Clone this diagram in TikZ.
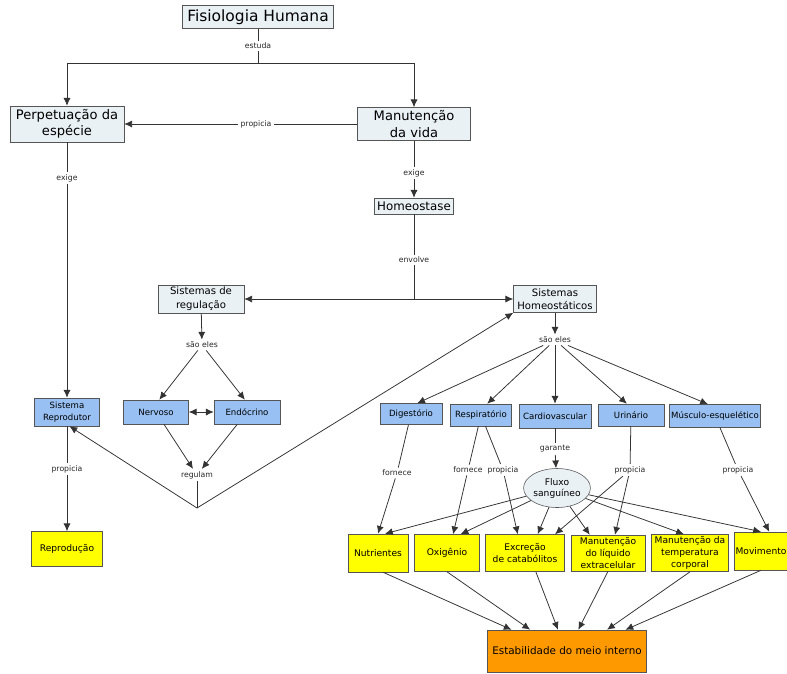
\documentclass[tikz,border=0pt]{standalone}
\usepackage{fontspec}
\setmainfont{DejaVu Sans}
\usetikzlibrary{positioning}
\usetikzlibrary{shapes}
\usetikzlibrary{arrows.meta}

\definecolor{boxgray}{RGB}{233,241,245}
\definecolor{boxblue}{RGB}{152,192,242}
\definecolor{boxyellow}{RGB}{255,255,0}
\definecolor{boxorange}{RGB}{255,153,0}
\definecolor{edgegray}{RGB}{85,85,85}

\tikzset{
  concept/.style={draw=edgegray, fill=boxgray, align=center, inner sep=1pt},
  sysbox/.style={draw=edgegray, fill=boxblue, align=center, inner sep=1pt, font=\fontsize{6.1}{8.5}\selectfont},
  resbox/.style={draw=edgegray, fill=boxyellow, align=center, inner sep=1pt, font=\fontsize{6.5}{8.3}\selectfont},
  link/.style={inner sep=1.5pt, text=black!85, font=\fontsize{5.5}{6.5}\selectfont},
  conn/.style={draw=black!80, line width=0.55pt},
  >={Latex[length=5.5pt,width=5pt]}
}

\begin{document}
\begin{tikzpicture}[x=0.025cm, y=-0.025cm]
\useasboundingbox (0,0) rectangle (787,673);

%top concepts
\node[concept, font=\fontsize{11}{13}\selectfont, minimum width=3.775cm, minimum height=0.575cm] (fisio) at (258,17) {Fisiologia Humana};
\node[concept, font=\fontsize{9.3}{11.5}\selectfont, minimum width=2.85cm, minimum height=0.9cm] (perp) at (67,124) {Perpetuação da\\espécie};
\node[concept, font=\fontsize{9.3}{11.5}\selectfont, minimum width=2.825cm, minimum height=0.825cm] (manu) at (414,124) {Manutenção\\da vida};
\node[concept, font=\fontsize{8.4}{10}\selectfont, minimum width=1.975cm, minimum height=0.4cm, inner sep=0.5pt] (homeo) at (414,206) {Homeostase};
\node[concept, font=\fontsize{7.2}{10}\selectfont, minimum width=2.15cm, minimum height=0.7cm] (sreg) at (201,299) {Sistemas de\\regulação};
\node[concept, font=\fontsize{7.2}{9.4}\selectfont, minimum width=2.075cm, minimum height=0.675cm] (shom) at (555,299) {Sistemas\\Homeostáticos};

%systems
\node[sysbox, minimum width=1.625cm, minimum height=0.7cm] (srep) at (67,412) {Sistema\\Reprodutor};
\node[sysbox, minimum width=1.625cm, minimum height=0.6cm] (nerv) at (156,412) {Nervoso};
\node[sysbox, minimum width=1.65cm, minimum height=0.6cm] (endo) at (247,412) {Endócrino};
\node[sysbox, minimum width=1.55cm, minimum height=0.525cm] (dig) at (411,414) {Digestório};
\node[sysbox, minimum width=1.525cm, minimum height=0.55cm] (resp) at (481,415) {Respiratório};
\node[sysbox, minimum width=1.8cm, minimum height=0.6cm] (cardio) at (555,416) {Cardiovascular};
\node[sysbox, minimum width=1.65cm, minimum height=0.55cm] (urin) at (631,415) {Urinário};
\node[sysbox, minimum width=2.275cm, minimum height=0.575cm] (musc) at (715,416) {Músculo-esquelético};
\node[draw=edgegray, fill=boxgray, ellipse, align=center, inner sep=0pt, minimum width=1.65cm, minimum height=0.975cm, font=\fontsize{6.5}{7.8}\selectfont] (fluxo) at (557,488) {Fluxo\\sanguíneo};

%results
\node[resbox, minimum width=1.775cm, minimum height=0.875cm] (repro) at (67,549) {Reprodução};
\node[resbox, minimum width=1.5cm, minimum height=0.95cm] (nut) at (378,553) {Nutrientes};
\node[resbox, minimum width=1.625cm, minimum height=0.925cm] (oxi) at (447,553) {Oxigênio};
\node[resbox, minimum width=1.975cm, minimum height=0.925cm] (exc) at (525,553) {Excreção\\de catabólitos};
\node[resbox, minimum width=1.85cm, minimum height=0.9cm] (liq) at (608,553) {Manutenção\\do líquido\\extracelular};
\node[resbox, minimum width=1.925cm, minimum height=0.925cm] (temp) at (690,553) {Manutenção da\\temperatura\\corporal};
\node[resbox, minimum width=1.3cm, minimum height=0.95cm] (mov) at (761,551) {Movimento};
\node[draw=edgegray, fill=boxorange, font=\fontsize{7.4}{9}\selectfont, minimum width=3.925cm, minimum height=1.05cm] (est) at (567,651) {Estabilidade do meio interno};

%linking words
\node[link] (estuda) at (258,46) {estuda};
\node[link] (prop1) at (256,124) {propicia};
\node[link] (exige1) at (67,178) {exige};
\node[link] (exige2) at (414,173) {exige};
\node[link] (envolve) at (414,260) {envolve};
\node[link] (saoL) at (202,345) {são eles};
\node[link] (saoR) at (555,340) {são eles};
\node[link] (regulam) at (197,475) {regulam};
\node[link] (prop5) at (67,469) {propicia};
\node[link] (garante) at (555,449) {garante};
\node[link] (forn1) at (397,473) {fornece};
\node[link] (forn2) at (468,470) {fornece};
\node[link] (prop2) at (503,470) {propicia};
\node[link] (prop3) at (630,470) {propicia};
\node[link] (prop4) at (738,470) {propicia};

%junctions
\coordinate (split) at (258,63);
\coordinate (fork) at (414,299);
\coordinate (rjoin) at (197,508);

%top links
\draw[conn] (fisio) -- (estuda);
\draw[conn,->] (estuda) -- (split) -| (perp);
\draw[conn,->] (split) -| (manu);
\draw[conn] (manu) -- (prop1);
\draw[conn,->] (prop1) -- (perp);
\draw[conn] (perp) -- (exige1);
\draw[conn,->] (exige1) -- (srep);
\draw[conn] (manu) -- (exige2);
\draw[conn,->] (exige2) -- (homeo);
\draw[conn] (homeo) -- (envolve);
\draw[conn] (envolve) -- (fork);
\draw[conn,->] (fork) -- (sreg);
\draw[conn,->] (fork) -- (shom);

%regulation
\draw[conn,->] (sreg) -- (saoL);
\draw[conn,->] (saoL) -- (nerv.75);
\draw[conn,->] (saoL) -- (endo.100);
\draw[conn,<->] (nerv) -- (endo);
\draw[conn,->] (nerv) -- (regulam);
\draw[conn,->] (endo) -- (regulam);
\draw[conn] (regulam) -- (rjoin);
\draw[conn,->] (rjoin) -- (srep.-80);
\draw[conn,->] (rjoin) -- (shom.south west);
\draw[conn] (srep) -- (prop5);
\draw[conn,->] (prop5) -- (repro);

%homeostatic systems
\draw[conn,->] (shom) -- (saoR);
\draw[conn,->] (saoR) -- (dig.60);
\draw[conn,->] (saoR) -- (resp.61);
\draw[conn,->] (saoR) -- (cardio);
\draw[conn,->] (saoR) -- (urin.110);
\draw[conn,->] (saoR) -- (musc.121);
\draw[conn] (cardio) -- (garante);
\draw[conn,->] (garante) -- (fluxo);
\draw[conn] (dig) -- (forn1);
\draw[conn,->] (forn1) -- (nut.north);
\draw[conn] (resp) -- (forn2);
\draw[conn,->] (forn2) -- (oxi.72);
\draw[conn] (resp) -- (prop2);
\draw[conn,->] (prop2) -- (exc.111);
\draw[conn] (urin) -- (prop3);
\draw[conn,->] (prop3) -- (liq.69);
\draw[conn,->] (prop3) -- (exc.32);
\draw[conn] (musc) -- (prop4);
\draw[conn,->] (prop4) -- (mov.67);

%blood flow
\draw[conn,->] (fluxo) -- (nut.70);
\draw[conn,->] (fluxo) -- (oxi.54);
\draw[conn,->] (fluxo) -- (exc.56);
\draw[conn,->] (fluxo) -- (liq.135);
\draw[conn,->] (fluxo) -- (temp.108);
\draw[conn,->] (fluxo) -- (mov.north);

%stability
\draw[conn,->] (nut.-75) -- (est.159);
\draw[conn,->] (oxi.south) -- (est.150);
\draw[conn,->] (exc.-60) -- (est.113);
\draw[conn,->] (liq.south) -- (est.62);
\draw[conn,->] (temp.south) -- (est.28);
\draw[conn,->] (mov.south) -- (est.20);

\end{tikzpicture}
\end{document}
